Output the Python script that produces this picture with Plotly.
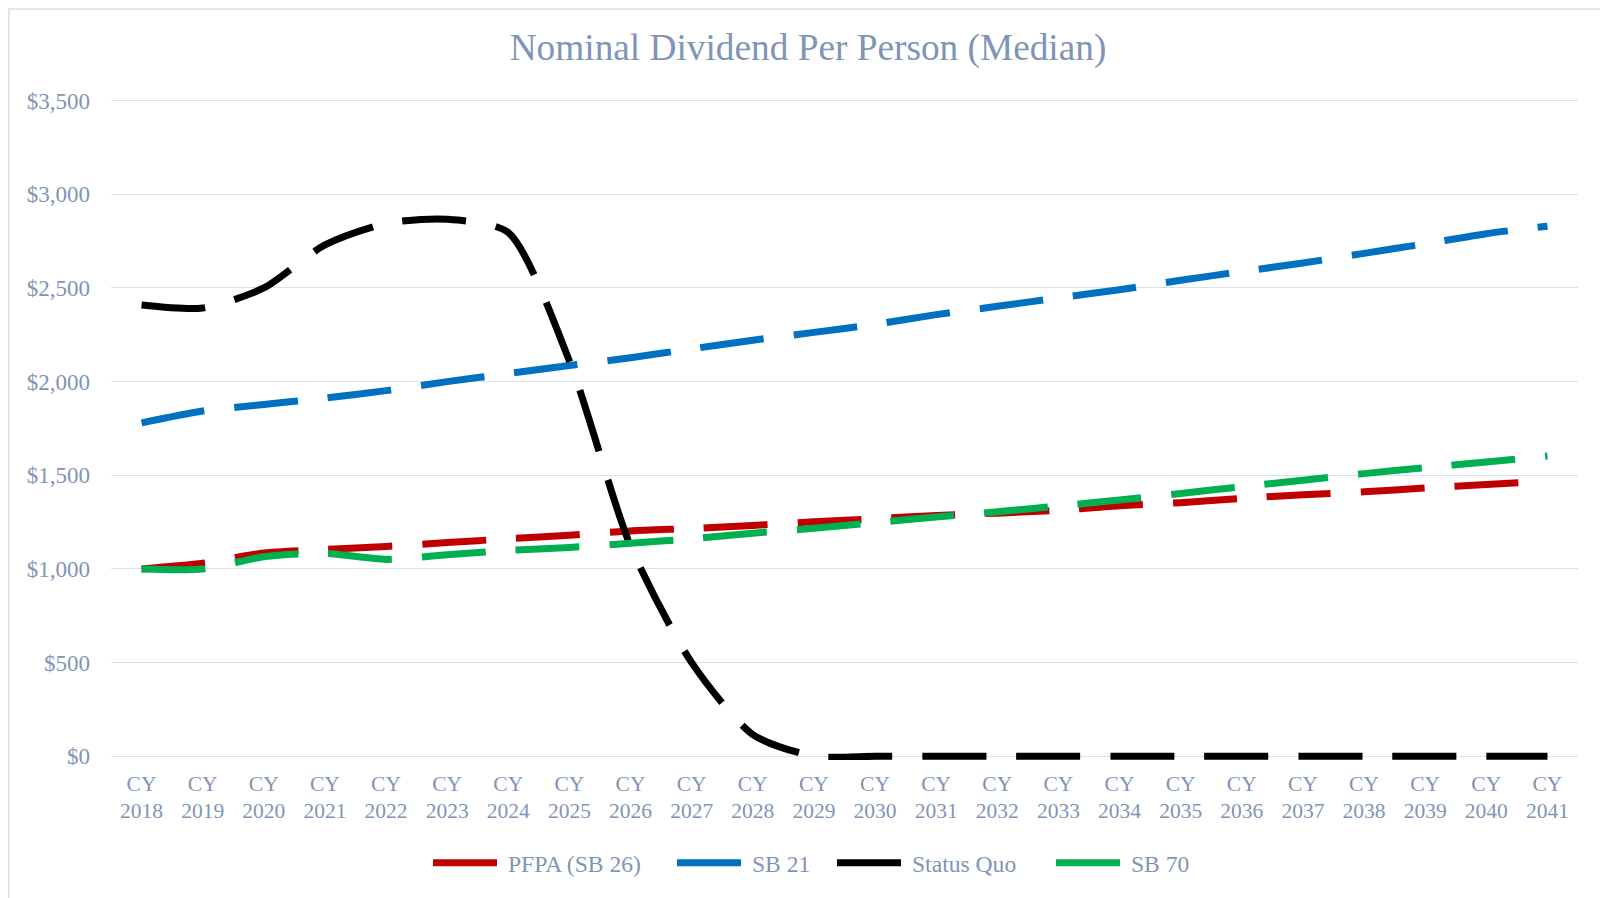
import plotly.graph_objects as go

years = [f"CY<br>{y}" for y in range(2018, 2042)]

pfpa_sb26 = [1000, 1030, 1085, 1104, 1120, 1141, 1161, 1180, 1203, 1216, 1232, 1252,
             1268, 1286, 1298, 1313, 1338, 1354, 1377, 1396, 1412, 1432, 1451, 1469]
sb21 = [1780, 1843, 1878, 1912, 1952, 2000, 2043, 2086, 2128, 2175, 2221, 2263,
        2306, 2358, 2402, 2447, 2491, 2541, 2588, 2633, 2685, 2736, 2790, 2830]
status_quo = [2409, 2393, 2500, 2730, 2845, 2867, 2796, 2110, 1122, 500, 116, 0,
              0, 0, 0, 0, 0, 0, 0, 0, 0, 0, 0, 0]
sb70 = [1000, 1000, 1065, 1083, 1051, 1076, 1099, 1115, 1137, 1161, 1191, 1217,
        1247, 1277, 1305, 1336, 1368, 1403, 1439, 1474, 1509, 1541, 1571, 1603]

series_names = ["PFPA (SB 26)", "SB 21", "Status Quo", "SB 70"]
series_values = [pfpa_sb26, sb21, status_quo, sb70]
series_colors = ["#C00000", "#0070C0", "#000000", "#00B050"]
legend_ids = ["legend", "legend2", "legend3", "legend4"]
legend_x_px = [420, 664, 824, 1043]

y_ticks = [0, 500, 1000, 1500, 2000, 2500, 3000, 3500]
y_ticktext = [f"${v:,}" for v in y_ticks]

TEXT = "#7F95B7"
FONT = "Liberation Serif"
W, H = 1600, 890

# y scale: 0 at 748.7 px, 3500 at 92.5 px (figure coordinates)
Y0_PX, Y3500_PX = 748.7, 92.5
PX_PER_UNIT = (Y0_PX - Y3500_PX) / 3500
Y_LO, Y_HI = -20, 3525
PT = Y3500_PX - (Y_HI - 3500) * PX_PER_UNIT
PB = Y0_PX + (0 - Y_LO) * PX_PER_UNIT
PL, PR = 103, 1570

fig = go.Figure()
for name, vals, col, lg in zip(series_names, series_values, series_colors, legend_ids):
    fig.add_trace(go.Scatter(
        x=years, y=vals, name=name, mode="lines",
        line=dict(color=col, width=7, dash="64px,30px", shape="spline", smoothing=0.7),
        cliponaxis=False, legend=lg,
    ))

legend_common = dict(
    orientation="h", xref="container", yref="container",
    xanchor="left", yanchor="middle", y=1 - 855 / H,
    font=dict(family=FONT, size=23.6, color=TEXT),
    itemwidth=70, bgcolor="rgba(0,0,0,0)", borderwidth=0,
)

layout_legends = {}
for lg, px in zip(legend_ids, legend_x_px):
    layout_legends[lg] = dict(legend_common, x=px / W)

fig.update_layout(
    width=W, height=H,
    margin=dict(l=PL, r=W - PR, t=PT, b=H - PB),
    paper_bgcolor="white", plot_bgcolor="white",
    title=dict(
        text="Nominal Dividend Per Person (Median)",
        font=dict(family=FONT, size=37.3, color=TEXT),
        x=800 / W, xref="container", xanchor="center",
        y=1 - 39 / H, yref="container", yanchor="middle",
    ),
    showlegend=True,
    **layout_legends,
    xaxis=dict(
        type="category", range=[-0.5, 23.5],
        showgrid=False, showline=False, zeroline=False, ticks="",
        tickfont=dict(family=FONT, size=21.5, color=TEXT),
        ticklabelstandoff=8,
    ),
    yaxis=dict(
        range=[Y_LO, Y_HI], tickvals=y_ticks, ticktext=y_ticktext,
        showgrid=True, gridcolor="#D9E0EC", gridwidth=1.4,
        zeroline=False, showline=False, ticks="",
        tickfont=dict(family=FONT, size=23, color=TEXT),
        ticklabelstandoff=20,
    ),
    shapes=[dict(
        type="rect", xref="paper", yref="paper",
        x0=(0.75 - PL) / (PR - PL), x1=(1597 - PL) / (PR - PL),
        y0=(PB - 900) / (PB - PT), y1=(PB - 0.75) / (PB - PT),
        line=dict(color="#D9DFEA", width=1.5), fillcolor="rgba(0,0,0,0)",
        layer="below",
    )],
)

fig.write_html("out.html")
